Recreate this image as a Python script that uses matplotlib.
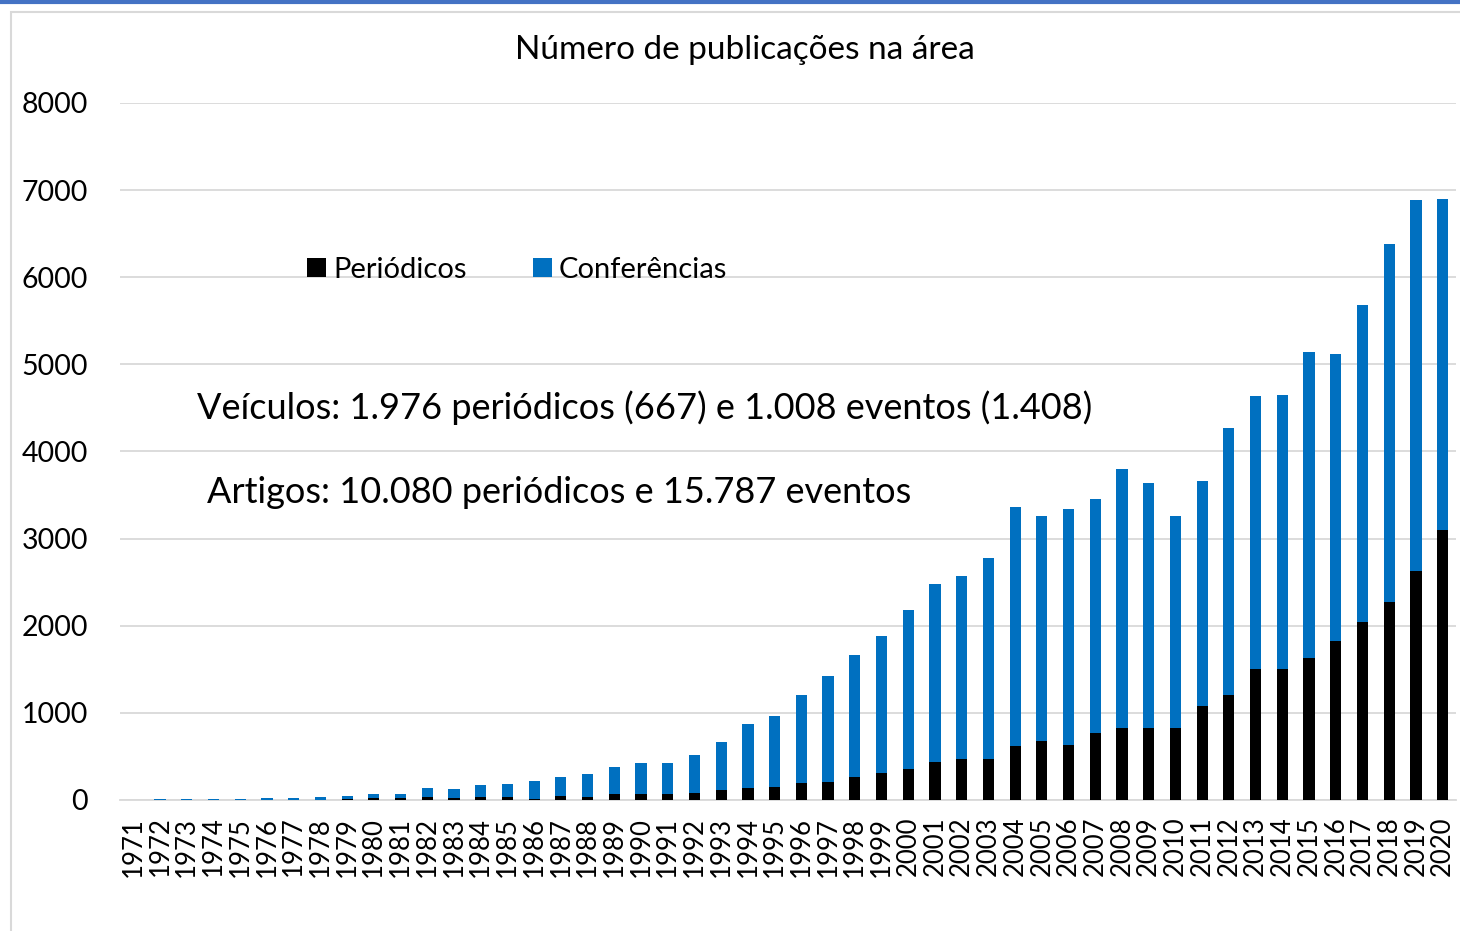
import matplotlib
matplotlib.use("Agg")
import matplotlib.pyplot as plt
from matplotlib.patches import Rectangle
from matplotlib.lines import Line2D
import numpy as np

plt.rcParams['font.family'] = ['Lato', 'DejaVu Sans']

anos = [str(a) for a in range(1971, 2021)]
periodicos = [1, 2, 2, 2, 2, 4, 4, 5, 10, 20,
              20, 35, 20, 35, 32, 15, 46, 31, 65, 65,
              65, 77, 115, 134, 146, 195, 207, 264, 312, 356,
              439, 474, 474, 621, 679, 633, 773, 831, 831, 831,
              1083, 1207, 1498, 1498, 1626, 1823, 2048, 2268, 2623, 3095]
conferencias = [4, 10, 10, 10, 10, 21, 21, 30, 40, 50,
                50, 105, 105, 135, 153, 203, 218, 269, 314, 363,
                363, 440, 551, 739, 822, 1014, 1220, 1397, 1567, 1821,
                2045, 2096, 2305, 2737, 2586, 2702, 2686, 2973, 2803, 2434,
                2582, 3058, 3136, 3150, 3517, 3297, 3634, 4119, 4262, 3798]
yticks = [0, 1000, 2000, 3000, 4000, 5000, 6000, 7000, 8000]

W, H = 1460, 931
fig = plt.figure(figsize=(W / 100, H / 100), dpi=100)
fig.set_facecolor('w')

# chart frame and top blue rule
fig.patches.append(Rectangle((11 / W, -0.1), 1.2, 1 - 12 / H + 0.1, transform=fig.transFigure,
                             fill=False, edgecolor='#d9d9d9', lw=1.5))
fig.add_artist(Line2D([0, 1], [1 - 1.5 / H, 1 - 1.5 / H], transform=fig.transFigure,
                      color='#4472c4', lw=3))

ax = fig.add_axes([120 / W, 1 - 800 / H, 1336 / W, 697 / H])
x = np.arange(len(anos))
ax.bar(x, periodicos, width=0.42, color='#000000', label='Periódicos', zorder=3)
ax.bar(x, conferencias, width=0.42, bottom=periodicos, color='#0070c0',
       label='Conferências', zorder=3)

ax.set_xlim(-0.5, len(anos) - 0.5)
ax.set_ylim(0, 8000)
ax.set_yticks(yticks)
ax.set_yticklabels([str(v) for v in yticks], fontsize=20.5)
ax.set_xticks(x)
ax.set_xticklabels(anos, rotation=90, fontsize=18.5)
ax.tick_params(axis='y', length=0, pad=23)
ax.tick_params(axis='x', length=0, pad=12)
ax.grid(axis='y', color='#d9d9d9', lw=1.3, zorder=0)
for s in ['top', 'right', 'left']:
    ax.spines[s].set_visible(False)
ax.spines['bottom'].set_color('#d9d9d9')
ax.spines['bottom'].set_linewidth(1.3)

ax.legend(loc='center left', bbox_to_anchor=(281 / W, 1 - 270 / H), bbox_transform=fig.transFigure,
          ncol=2, frameon=False, fontsize=21, handlelength=0.65, handleheight=0.65,
          handletextpad=0.25, columnspacing=2.25)

fig.text(745 / W, 1 - 50 / H, 'Número de publicações na área', ha='center', va='center', fontsize=24)
fig.text(197 / W, 1 - 408 / H, 'Veículos: 1.976 periódicos (667) e 1.008 eventos (1.408)',
         ha='left', va='center', fontsize=26)
fig.text(207 / W, 1 - 493 / H, 'Artigos: 10.080 periódicos e 15.787 eventos',
         ha='left', va='center', fontsize=26)

plt.savefig('out.png', dpi=100)
